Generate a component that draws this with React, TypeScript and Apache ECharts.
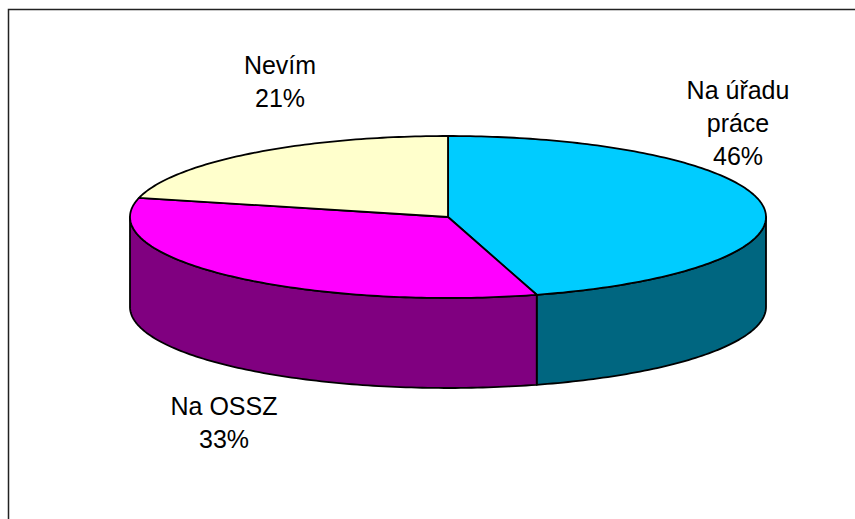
import React, { useEffect, useRef } from "react";
import * as echarts from "echarts";

const names = ["Na úřadu\npráce", "Na OSSZ", "Nevím"];
const values = [45.5, 33.3, 21.2];
const topColors = ["#00CCFF", "#FF00FF", "#FFFFCC"];
const sideColors = ["#006680", "#800080", "#808066"];

// layout (pixels)
const CX = 448;
const CY = 217;
const RX = 318;
const RY = 81;
const DEPTH = 90;
const labelPos = [
  [738, 123],
  [224, 422],
  [280, 81],
];

export default function App() {
  const ref = useRef<HTMLDivElement>(null);
  useEffect(() => {
    if (!ref.current) return;
    const chart = echarts.init(ref.current, null, { renderer: "svg" });
    const total = values.reduce((a, b) => a + b, 0);
    const starts: number[] = [];
    let acc = 0;
    values.forEach((v) => {
      starts.push((acc / total) * 360);
      acc += v;
    });
    const pt = (deg: number, dy = 0) => {
      const r = (deg * Math.PI) / 180;
      return [CX + RX * Math.sin(r), CY - RY * Math.cos(r) + dy];
    };
    const arc = (a0: number, a1: number, dy = 0) => {
      const pts: number[][] = [];
      const n = Math.max(2, Math.ceil(Math.abs(a1 - a0)));
      for (let i = 0; i <= n; i++) pts.push(pt(a0 + ((a1 - a0) * i) / n, dy));
      return pts;
    };

    const renderItem = (params: any, api: any) => {
      const i = params.dataIndex;
      const v = api.value(0);
      const a0 = starts[i];
      const a1 = a0 + (v / total) * 360;
      const children: any[] = [];
      const w0 = Math.max(a0, 90);
      const w1 = Math.min(a1, 270);
      if (w1 > w0) {
        const top = arc(w0, w1);
        const bottom = arc(w1, w0, DEPTH);
        children.push({
          type: "polygon",
          shape: { points: top.concat(bottom) },
          style: { fill: sideColors[i], stroke: "#000", lineWidth: 1.8, lineJoin: "round" },
        });
      }
      children.push({
        type: "polygon",
        shape: { points: [[CX, CY]].concat(arc(a0, a1)) },
        style: { fill: topColors[i], stroke: "#000", lineWidth: 1.8, lineJoin: "round" },
      });
      return { type: "group", children };
    };

    chart.setOption({
      animation: false,
      backgroundColor: "#fff",
      series: [
        {
          type: "custom",
          coordinateSystem: "none",
          renderItem,
          data: values.map((v) => [v]),
          silent: true,
        },
      ],
      graphic: [
        {
          type: "rect",
          shape: { x: 8.5, y: 9.5, width: 900, height: 600 },
          style: { fill: "none", stroke: "#222", lineWidth: 1.5 },
          z: 10,
        },
        ...names.map((n, i) => ({
          type: "text",
          x: labelPos[i][0],
          y: labelPos[i][1],
          z: 11,
          style: {
            text: n + "\n" + Math.round((values[i] / values.reduce((a, b) => a + b, 0)) * 100) + "%",
            fontFamily: "Liberation Sans, Arial, sans-serif",
            fontSize: 25,
            lineHeight: 33,
            fill: "#000",
            textAlign: "center",
            textVerticalAlign: "middle",
          },
        })),
      ],
    });
    return () => chart.dispose();
  }, []);
  return (
    <div
      ref={ref}
      style={{ position: "absolute", left: 0, top: 0, width: 855, height: 519 }}
    />
  );
}
